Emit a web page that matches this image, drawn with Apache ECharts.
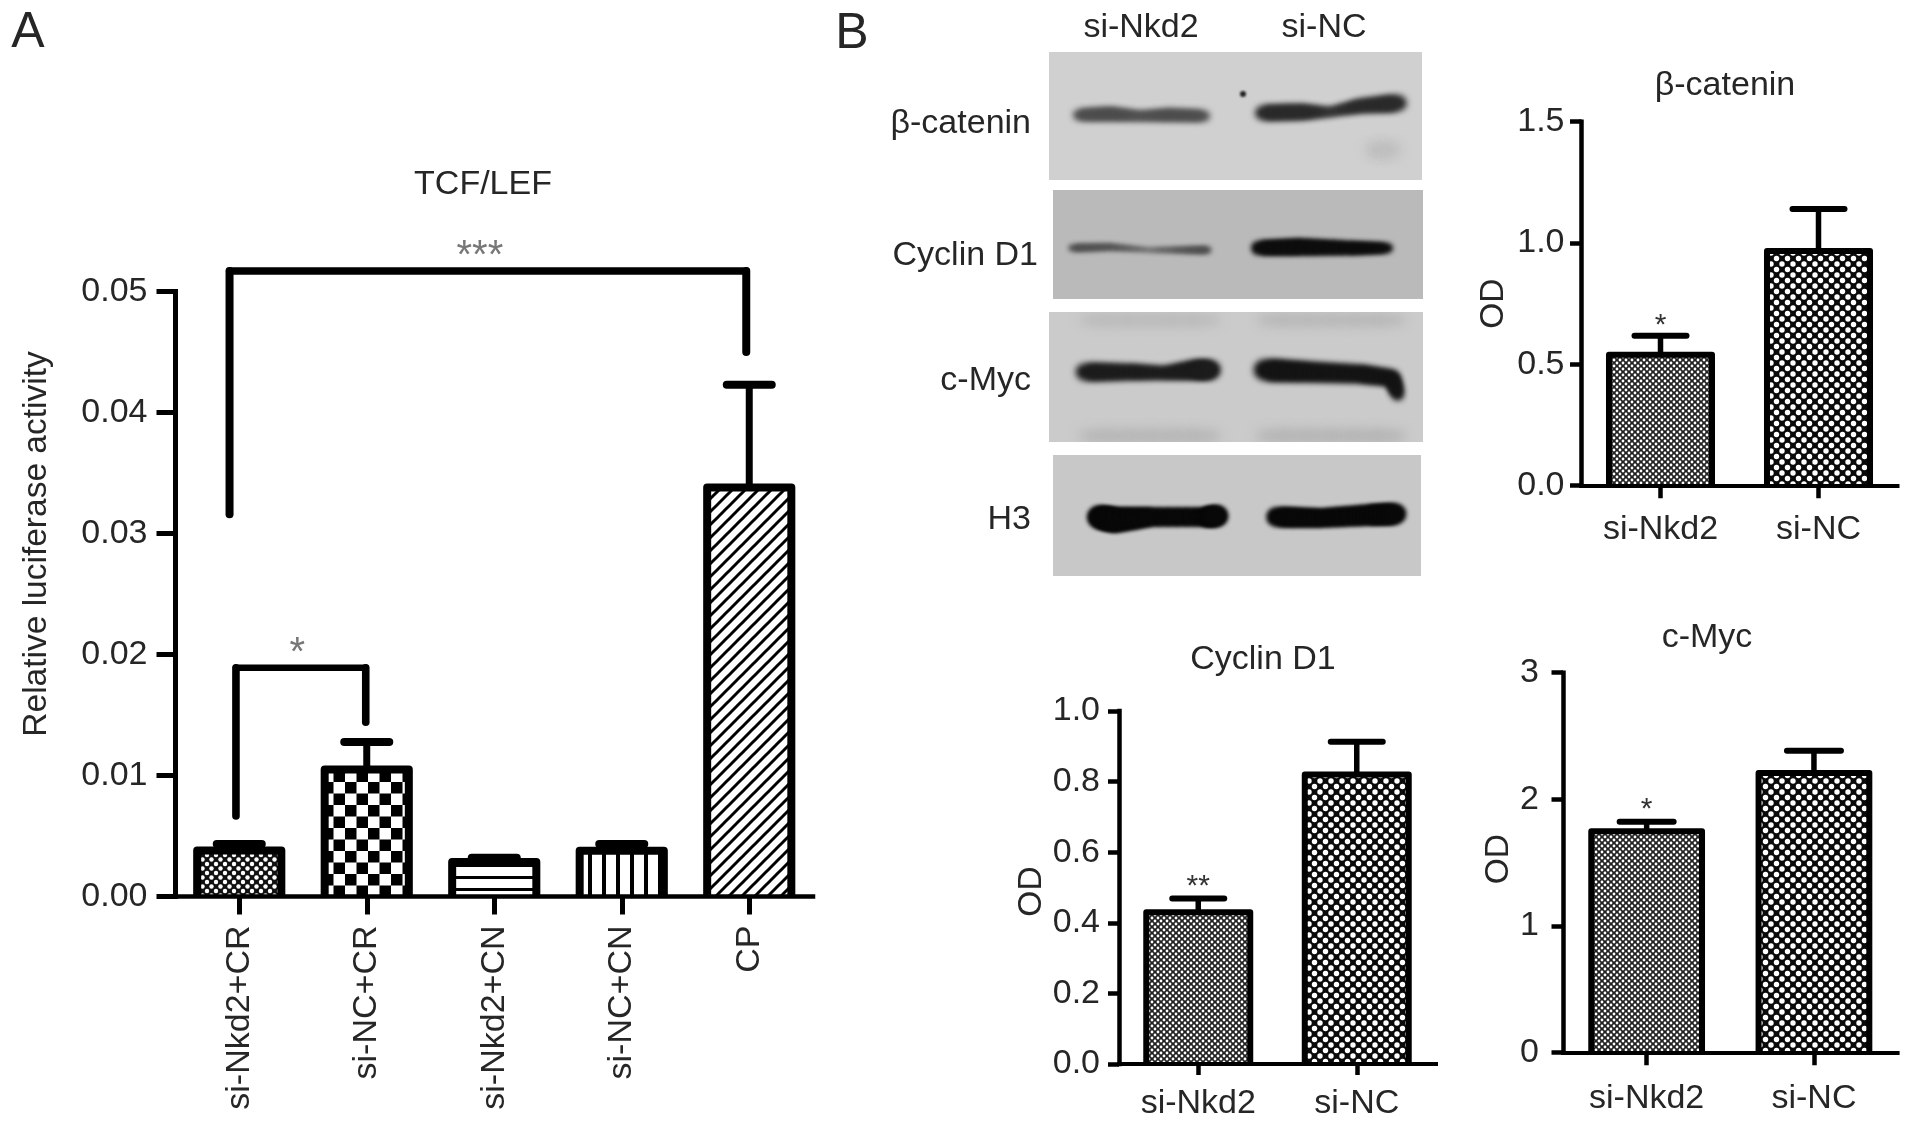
<!DOCTYPE html>
<html>
<head>
<meta charset="utf-8">
<style>html,body{margin:0;padding:0;background:#fff}#c{width:1913px;height:1126px}</style>
<script src="https://cdn.jsdelivr.net/npm/echarts@6/dist/echarts.min.js"></script>
</head>
<body>
<div id="c"></div>
<script>
// ---------- data ----------
const tcfCategories = ['si-Nkd2+CR','si-NC+CR','si-Nkd2+CN','si-NC+CN','CP'];
const tcfValues = [0.0038,0.0105,0.00285,0.00378,0.0338];
const tcfErrorTops = [0.00434,0.01277,0.0032,0.00434,0.0423];
const tcfTicks = [0,0.05,0.01];

const odCategories = ['si-Nkd2','si-NC'];
const catValues = [0.54,0.967];
const catErrorTops = [0.618,1.14];
const cycValues = [0.43,0.82];
const cycErrorTops = [0.469,0.913];
const mycValues = [1.748,2.208];
const mycErrorTops = [1.824,2.384];

// brackets: left category, right category, top, left end, right end, stars
const bracketValues = [
  [0,4,0.0517,0.0316,0.045,'***'],
  [0,1,0.0189,0.00665,0.0144,'*']
];
const bracketStars = ['***','*'];
const catStars = ['*',''];
const cycStars = ['**',''];
const mycStars = ['*',''];
const blotLabels = ['β-catenin','Cyclin D1','c-Myc','H3'];
const laneLabels = ['si-Nkd2','si-NC'];

// ---------- fill patterns ----------
function tile(w,h,draw){const c=document.createElement('canvas');c.width=w;c.height=h;const x=c.getContext('2d');draw(x,w,h);return c;}
function dots(period,r,bg){return tile(period,period,(x,w)=>{x.fillStyle=bg;x.fillRect(0,0,w,w);x.fillStyle='#fff';
  [[0,0],[w,0],[0,w],[w,w],[w/2,w/2]].forEach(p=>{x.beginPath();x.arc(p[0],p[1],r,0,7);x.fill();});});}
const patDense = dots(11,2.7,'#0a0a0a');
const patFine = dots(6,1.4,'#222');
const patCheck = tile(23,23,(x,w)=>{x.fillStyle='#fff';x.fillRect(0,0,w,w);x.fillStyle='#000';x.fillRect(0,0,w/2,w/2);x.fillRect(w/2,w/2,w/2,w/2);});
const patH = tile(12,12,(x,w)=>{x.fillStyle='#fff';x.fillRect(0,0,w,w);x.fillStyle='#000';x.fillRect(0,0,w,3);});
const patV = tile(14,14,(x,w)=>{x.fillStyle='#fff';x.fillRect(0,0,w,w);x.fillStyle='#000';x.fillRect(0,0,4,w);});
const patD = tile(13,13,(x,w)=>{x.fillStyle='#fff';x.fillRect(0,0,w,w);x.strokeStyle='#000';x.lineWidth=3.0;
  [[-w,w,w,-w],[0,w,w,0],[0,2*w,2*w,0]].forEach(l=>{x.beginPath();x.moveTo(l[0],l[1]);x.lineTo(l[2],l[3]);x.stroke();});});
const patMidDots = dots(9,2.2,'#111');
const fillOf = c => ({image:c,repeat:'repeat'});

// ---------- blot photographs (painted backdrop) ----------
const blotRects = [
  [1049,52,373,128,'#d0d0d0'],
  [1053,190,370,109,'#bababa'],
  [1049,312,374,130,'#cbcbcb'],
  [1053,455,368,121,'#c8c8c8']
];
const blotBands = [
  [0,'#4c4c4c',3,[[1078,115,10],[1110,114,12],[1140,116,8],[1170,115,11],[1205,116,10]]],
  [0,'#2a2a2a',3,[[1262,113,14],[1300,112,14],[1330,112,7],[1360,106,12],[1399,103,16]]],
  [0,'#bdbdbd',6,[[1370,150,8],[1395,150,10]]],
  [1,'#4a4a4a',2.4,[[1072,248,7],[1110,247,6],[1150,250,3],[1180,250,5],[1208,250,7]]],
  [1,'#0d0d0d',2.8,[[1258,248,14],[1300,247,16],[1350,248,13],[1388,248,10]]],
  [2,'#b4b4b4',6,[[1085,320,8],[1215,320,8]]],
  [2,'#b0b0b0',6,[[1262,320,8],[1400,320,8]]],
  [2,'#b2b2b2',6,[[1085,436,10],[1215,436,10]]],
  [2,'#b0b0b0',6,[[1262,436,10],[1400,436,10]]],
  [2,'#1c1c1c',3.4,[[1084,372,17],[1130,372,14],[1165,373,11],[1195,370,17],[1212,370,17]]],
  [2,'#141414',3.4,[[1264,370,21],[1310,372,18],[1360,374,16],[1392,378,14],[1398,395,10]]],
  [3,'#080808',2.2,[[1098,517,22],[1115,520,24],[1150,517,18],[1205,517,18],[1218,516,21]]],
  [3,'#080808',2.2,[[1276,517,20],[1320,518,18],[1370,515,20],[1396,514,21]]]
];
function paintBlots(){
  const c=document.createElement('canvas');c.width=1913;c.height=1126;const x=c.getContext('2d');
  blotRects.forEach(r=>{x.fillStyle=r[4];x.fillRect(r[0],r[1],r[2],r[3]);});
  blotBands.forEach(b=>{
    const r=blotRects[b[0]];
    x.save();x.beginPath();x.rect(r[0],r[1],r[2],r[3]);x.clip();
    x.filter='blur('+b[2]+'px)';x.strokeStyle=b[1];x.lineCap='round';
    const p=b[3];
    for(let i=0;i<p.length-1;i++){
      const n=6;
      for(let k=0;k<n;k++){
        const t0=k/n,t1=(k+1)/n;
        x.lineWidth=p[i][2]+(p[i+1][2]-p[i][2])*(t0+t1)/2;
        x.beginPath();
        x.moveTo(p[i][0]+(p[i+1][0]-p[i][0])*t0,p[i][1]+(p[i+1][1]-p[i][1])*t0);
        x.lineTo(p[i][0]+(p[i+1][0]-p[i][0])*t1,p[i][1]+(p[i+1][1]-p[i][1])*t1);
        x.stroke();
      }
    }
    x.restore();
  });
  x.filter='blur(1px)';x.fillStyle='#222';x.beginPath();x.arc(1243,94,3,0,7);x.fill();x.filter='none';
  return c;
}

// ---------- chart panels ----------
const FONT='"Liberation Sans", Arial, sans-serif';
const INK='#262626';
const panels = [
  {cats:tcfCategories,vals:tcfValues,tops:tcfErrorTops,stars:null,
   fills:[patMidDots,patCheck,patH,patV,patD].map(fillOf),
   left:175.5,top:291.5,width:637.5,height:605,max:tcfTicks[1],interval:tcfTicks[2],dec:2,
   yName:'Relative luciferase activity',nameGap:122,namePad:[0,0,0,100],
   tickY:19,tickX:18,labelY:28,labelX:29,labelPad:[8,0,0,0],rotate:90,ratio:.66,border:8,errW:7,capW:8,capHalf:22.5,axisW:5},
  {cats:odCategories,vals:catValues,tops:catErrorTops,stars:catStars,
   fills:[patFine,patDense].map(fillOf),
   left:1581.5,top:121.7,width:316,height:364,max:1.5,interval:.5,dec:1,
   yName:'OD',nameGap:71,namePad:[0,0,0,0],
   tickY:11.5,tickX:12.5,labelY:17,labelX:27,labelPad:0,rotate:0,ratio:.652,border:6,errW:5.5,capW:6,capHalf:26,axisW:4.5,starDy:-25},
  {cats:odCategories,vals:cycValues,tops:cycErrorTops,stars:cycStars,
   fills:[patFine,patDense].map(fillOf),
   left:1119,top:711,width:317,height:353,max:1,interval:.2,dec:1,
   yName:'OD',nameGap:70,namePad:[0,8,0,0],
   tickY:11,tickX:11,labelY:19,labelX:23,labelPad:0,rotate:0,ratio:.656,border:6,errW:5.5,capW:6,capHalf:26,axisW:4.5,starDy:-27},
  {cats:odCategories,vals:mycValues,tops:mycErrorTops,stars:mycStars,
   fills:[patFine,patDense].map(fillOf),
   left:1563,top:672.7,width:334.6,height:380,max:3,interval:1,dec:0,
   yName:'OD',nameGap:47,namePad:[0,0,0,7],
   tickY:11.5,tickX:12.5,labelY:24,labelX:29,labelPad:0,rotate:0,ratio:.662,border:6,errW:5.5,capW:6,capHalf:27,axisW:4.5,starDy:-27}
];

const grid=[],xAxis=[],yAxis=[],series=[];
panels.forEach((p,i)=>{
  grid.push({left:p.left,top:p.top,width:p.width,height:p.height,containLabel:false});
  xAxis.push({type:'category',gridIndex:i,data:p.cats,z:4,
    axisLine:{show:true,onZero:false,lineStyle:{color:'#000',width:p.axisW-.5,cap:'square'}},
    axisTick:{show:true,alignWithLabel:true,length:p.tickX,lineStyle:{color:'#000',width:p.axisW}},
    axisLabel:{show:true,interval:0,rotate:p.rotate,margin:p.labelX,padding:p.labelPad,fontFamily:FONT,fontSize:34,color:INK,hideOverlap:false},
    splitLine:{show:false}});
  yAxis.push({type:'value',gridIndex:i,min:0,max:p.max,interval:p.interval,z:4,
    name:p.yName,nameLocation:'middle',nameGap:p.nameGap,
    nameTextStyle:{fontFamily:FONT,fontSize:33.5,color:INK,padding:p.namePad},
    axisLine:{show:true,onZero:false,lineStyle:{color:'#000',width:p.axisW,cap:'square'}},
    axisTick:{show:true,length:p.tickY,lineStyle:{color:'#000',width:p.axisW}},
    axisLabel:{show:true,margin:p.labelY,padding:[5,0,0,0],fontFamily:FONT,fontSize:34,color:INK,formatter:v=>Number(v).toFixed(p.dec),
      showMinLabel:true,showMaxLabel:true},
    splitLine:{show:false}});
  series.push({type:'bar',xAxisIndex:i,yAxisIndex:i,barWidth:(p.ratio*100)+'%',silent:true,
    data:p.vals.map((v,k)=>({value:v,itemStyle:{color:p.fills[k],borderWidth:0}})),z:2});
  series.push({type:'custom',xAxisIndex:i,yAxisIndex:i,silent:true,z:3,clip:false,
    encode:{x:0,y:1},
    data:p.vals.map((v,k)=>[k,v,p.tops[k],p.stars?p.stars[k]:'']),
    renderItem:(params,api)=>{
      const k=api.value(0);
      const a=api.coord([k,api.value(1)]),b=api.coord([k,0]),e=api.coord([k,api.value(2)]);
      const half=api.size([1,0])[0]*p.ratio/2;
      const ch=[
        {type:'line',z2:1,shape:{x1:a[0],y1:a[1],x2:a[0],y2:e[1]},style:{stroke:'#000',lineWidth:p.errW,fill:null}},
        {type:'line',z2:1,shape:{x1:a[0]-p.capHalf,y1:e[1],x2:a[0]+p.capHalf,y2:e[1]},style:{stroke:'#000',lineWidth:p.capW,lineCap:'round',fill:null}},
        {type:'polyline',z2:2,shape:{points:[[a[0]-half,b[1]],[a[0]-half,a[1]],[a[0]+half,a[1]],[a[0]+half,b[1]]]},
          style:{stroke:'#000',lineWidth:p.border,lineJoin:'round',fill:null}}
      ];
      const star=params.dataIndex<(p.stars?p.stars.length:0)?p.stars[params.dataIndex]:'';
      if(star){ch.push({type:'text',z2:3,x:a[0],y:e[1]+p.starDy,
        style:{text:star,fontFamily:FONT,fontSize:30,fill:'#333',align:'center',verticalAlign:'top'}});}
      return {type:'group',children:ch};
    }});
});

// significance brackets of panel A
const bracketNudge=[[-9.7,-3,-8],[-3.3,-1,-3.5]];
series.push({type:'custom',xAxisIndex:0,yAxisIndex:0,silent:true,z:3,clip:false,
  encode:{x:0,y:2},
  data:bracketValues,
  renderItem:(params,api)=>{
    const n=bracketNudge[params.dataIndex];
    const lx=api.coord([api.value(0),0])[0]+n[0];
    const rx=api.coord([api.value(1),0])[0]+n[1];
    const ty=api.coord([0,api.value(2)])[1];
    const ly=api.coord([0,api.value(3)])[1];
    const ry=api.coord([0,api.value(4)])[1];
    const w=params.dataIndex===0?8:7.6;
    const seg=(x1,y1,x2,y2,lw)=>({type:'line',shape:{x1,y1,x2,y2},style:{stroke:'#000',lineWidth:lw,lineCap:'round',fill:null}});
    return {type:'group',children:[
      seg(lx,ty,lx,ly,w),seg(lx,ty,rx,ty,params.dataIndex===0?7.5:6.5),seg(rx,ty,rx,ry,w),
      {type:'text',x:(lx+rx)/2+n[2],y:ty-34,style:{text:bracketStars[params.dataIndex],fontFamily:FONT,fontSize:40,fill:'#777',align:'center',verticalAlign:'top'}}
    ]};
  }});

const titleSpecs=[
  ['A',28,33,50],['B',852,34,50],
  ['TCF/LEF',483,185,34],['β-catenin',1725,86,34],['Cyclin D1',1263,660,34],['c-Myc',1707,638,34]
];
const labelRight=[1031,1038,1031,1031], labelY=[124,256,381,520];
const laneX=[1141,1324];
const graphic=[{type:'image',silent:true,z:-1,x:0,y:0,style:{image:paintBlots(),x:0,y:0,width:1913,height:1126}}];
blotLabels.forEach((t,i)=>graphic.push({type:'text',silent:true,x:labelRight[i],y:labelY[i],
  style:{text:t,fontFamily:FONT,fontSize:34,fill:INK,align:'right',verticalAlign:'middle'}}));
laneLabels.forEach((t,i)=>graphic.push({type:'text',silent:true,x:laneX[i],y:28,
  style:{text:t,fontFamily:FONT,fontSize:34,fill:INK,align:'center',verticalAlign:'middle'}}));

const chart=echarts.init(document.getElementById('c'),null,{renderer:'canvas',width:1913,height:1126});
chart.setOption({
  animation:false,backgroundColor:'#fff',
  title:titleSpecs.map(t=>({text:t[0],left:t[1],top:t[2],textAlign:'center',textVerticalAlign:'middle',padding:0,
    textStyle:{fontFamily:FONT,fontSize:t[3],fontWeight:'normal',color:INK}})),
  grid,xAxis,yAxis,series,graphic,tooltip:{show:false},legend:{show:false}
});
</script>
</body>
</html>
